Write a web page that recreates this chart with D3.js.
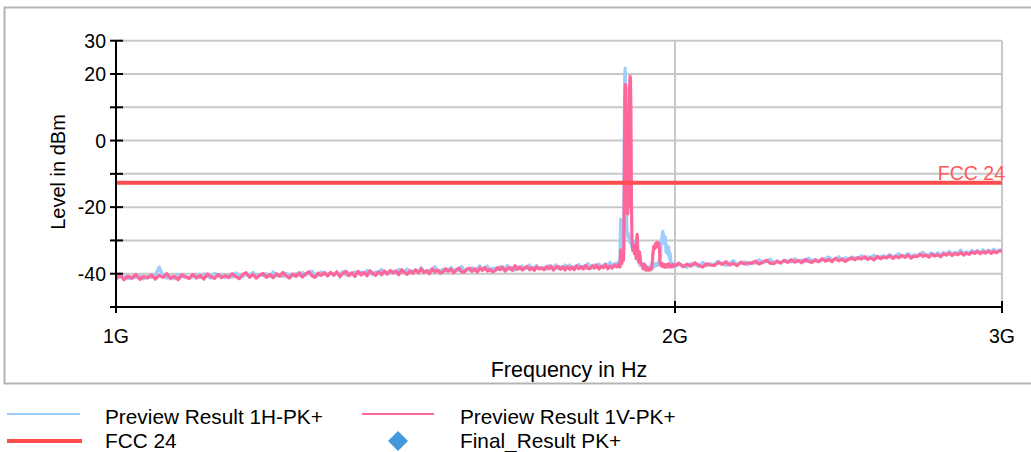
<!DOCTYPE html>
<html>
<head>
<meta charset="utf-8">
<script src="https://cdn.jsdelivr.net/npm/d3@7"></script>
<style>
  html, body { margin: 0; padding: 0; background: #fff; }
  svg { display: block; font-family: "Liberation Sans", Arial, sans-serif; }
</style>
</head>
<body>
<div id="chart"></div>
<script>
// Data (frequency in MHz, level in dBm)
const baseFreqLow = [
    1000, 1005, 1010, 1015, 1020, 1025, 1030, 1035, 1040, 1045,
    1050, 1055, 1060, 1065, 1070, 1075, 1080, 1085, 1090, 1095,
    1100, 1105, 1110, 1115, 1120, 1125, 1130, 1135, 1140, 1145,
    1150, 1155, 1160, 1165, 1170, 1175, 1180, 1185, 1190, 1195,
    1200, 1205, 1210, 1215, 1220, 1225, 1230, 1235, 1240, 1245,
    1250, 1255, 1260, 1265, 1270, 1275, 1280, 1285, 1290, 1295,
    1300, 1305, 1310, 1315, 1320, 1325, 1330, 1335, 1340, 1345,
    1350, 1355, 1360, 1365, 1370, 1375, 1380, 1385, 1390, 1395,
    1400, 1405, 1410, 1415, 1420, 1425, 1430, 1435, 1440, 1445,
    1450, 1455, 1460, 1465, 1470, 1475, 1480, 1485, 1490, 1495,
    1500, 1505, 1510, 1515, 1520, 1525, 1530, 1535, 1540, 1545,
    1550, 1555, 1560, 1565, 1570, 1575, 1580, 1585, 1590, 1595,
    1600, 1605, 1610, 1615, 1620, 1625, 1630, 1635, 1640, 1645,
    1650, 1655, 1660, 1665, 1670, 1675, 1680, 1685, 1690, 1695,
    1700, 1705, 1710, 1715, 1720, 1725, 1730, 1735, 1740, 1745,
    1750, 1755, 1760, 1765, 1770, 1775, 1780, 1785, 1790, 1795,
    1800, 1805, 1810, 1815, 1820, 1825, 1830, 1835, 1840, 1845,
    1850, 1855, 1860
];
const levelLowH = [
    -41.3, -41.0, -40.6, -41.5, -40.9, -41.2, -40.5, -41.6, -40.7, -41.1,
    -40.4, -38.0, -40.8, -41.3, -40.6, -41.5, -40.2, -41.0, -40.7, -41.3,
    -40.9, -40.5, -41.2, -40.0, -40.8, -41.3, -39.9, -40.6, -40.4, -41.1,
    -40.5, -41.0, -39.8, -40.7, -40.9, -40.1, -40.6, -39.6, -40.8, -40.3,
    -40.6, -40.0, -40.8, -39.5, -40.7, -40.3, -40.9, -39.9, -40.4, -40.6,
    -40.0, -40.5, -39.6, -40.4, -39.9, -39.2, -40.3, -40.6, -39.5, -40.2,
    -40.2, -39.7, -40.5, -39.9, -40.1, -39.3, -40.4, -39.8, -40.3, -39.5,
    -39.8, -39.5, -40.1, -39.0, -39.9, -40.2, -39.4, -39.7, -38.7, -39.9,
    -39.5, -39.8, -39.2, -39.9, -38.7, -39.6, -39.3, -38.6, -39.7, -39.2,
    -39.1, -39.5, -38.2, -39.3, -39.6, -38.9, -39.2, -37.9, -39.4, -39.0,
    -38.7, -39.2, -38.9, -38.1, -39.3, -38.6, -39.0, -37.8, -39.1, -38.8,
    -38.9, -38.2, -39.0, -38.6, -37.6, -38.8, -38.5, -37.7, -39.0, -38.3,
    -38.4, -38.8, -37.8, -38.6, -38.3, -37.5, -38.7, -38.2, -38.9, -37.9,
    -38.5, -37.7, -38.6, -38.1, -37.4, -38.5, -38.0, -37.6, -38.4, -38.1,
    -38.2, -38.6, -37.5, -38.4, -38.1, -37.3, -38.5, -37.9, -38.3, -37.4,
    -38.3, -37.4, -38.4, -37.9, -38.2, -37.2, -38.1, -37.7, -38.3, -36.9,
    -37.8, -38.2, -37.3, -38.0, -37.1, -37.9, -37.5, -37.0, -37.8, -36.6,
    -37.6, -37.1, -36.8
];
const levelLowV = [
    -41.6, -40.3, -41.8, -40.7, -41.4, -40.2, -41.7, -40.8, -41.3, -40.4,
    -41.6, -40.5, -41.1, -40.0, -41.5, -40.7, -41.8, -40.3, -41.0, -41.4,
    -40.2, -41.3, -40.5, -41.6, -40.1, -40.9, -41.4, -40.3, -41.2, -40.6,
    -41.2, -40.0, -40.9, -41.5, -40.3, -39.7, -41.1, -40.2, -41.3, -40.5,
    -39.9, -41.1, -40.2, -41.2, -40.0, -40.8, -39.6, -40.7, -41.3, -40.1,
    -40.8, -39.7, -41.0, -40.1, -39.4, -40.6, -41.1, -39.8, -40.5, -39.6,
    -40.7, -39.6, -40.4, -39.4, -40.9, -39.9, -39.3, -40.6, -39.7, -40.8,
    -39.3, -40.4, -39.6, -40.6, -39.1, -39.9, -40.5, -39.4, -40.3, -39.2,
    -40.1, -39.0, -39.8, -39.2, -40.3, -38.8, -39.6, -40.2, -39.1, -39.9,
    -38.8, -39.7, -38.6, -39.6, -39.1, -40.0, -38.5, -39.5, -38.9, -39.8,
    -39.5, -38.5, -39.3, -38.6, -39.7, -38.9, -38.3, -39.4, -39.6, -38.6,
    -38.4, -39.3, -38.5, -39.5, -38.3, -39.0, -38.1, -39.2, -38.7, -39.4,
    -39.1, -38.2, -38.8, -38.0, -39.2, -38.5, -38.1, -39.0, -37.6, -38.7,
    -38.0, -38.9, -38.3, -37.8, -38.8, -38.2, -39.0, -37.9, -38.6, -38.3,
    -38.8, -37.9, -38.5, -37.7, -38.9, -38.2, -37.8, -38.7, -38.0, -38.9,
    -37.8, -38.7, -38.0, -38.8, -37.6, -38.5, -37.9, -38.6, -37.5, -38.4,
    -38.5, -37.6, -38.3, -37.4, -38.6, -37.8, -38.2, -37.3, -38.5, -37.7,
    -38.3, -37.4, -37.9
];

// Around the 1.88 GHz carrier: [MHz, dBm]
const peakH = [
    [1862, -37.3], [1864, -36.6], [1866, -37.2], [1868, -35.8], [1869.5, -23.7], [1871, -35.5],
    [1873, -36.4], [1875, -34.5], [1876, -33.0], [1877, -28.0], [1878, 0.0], [1879, 18.0],
    [1880, 21.8], [1881, 18.0], [1882.5, -10.0], [1884, -26.0], [1886, -29.0], [1888, -28.0],
    [1890, -30.5], [1892, -29.0], [1895, -31.5], [1898, -33.0], [1900, -30.5], [1903, -34.0],
    [1906, -33.0], [1909, -35.5], [1912, -36.2], [1915, -37.5], [1918, -36.6], [1921, -38.3],
    [1924, -37.0], [1927, -38.5], [1930, -37.6], [1933, -38.9], [1936, -38.0], [1939, -38.6],
    [1942, -37.3], [1945, -38.4], [1948, -37.0], [1951, -37.8], [1954, -36.9], [1957, -37.5],
    [1960, -36.5], [1964, -35.0], [1967, -30.0], [1970, -27.3], [1972, -28.5], [1974, -31.0],
    [1976, -29.0], [1978, -33.5], [1980, -31.5], [1982, -34.0], [1984, -32.0], [1986, -35.5],
    [1988, -33.9], [1990, -37.0], [1993, -37.8], [1996, -36.9], [1998, -37.6]
];
const peakV = [
    [1862, -37.9], [1865, -37.2], [1868, -38.0], [1870, -32.8], [1872, -37.0], [1874, -35.5],
    [1876, -36.0], [1877, -33.0], [1878.5, -5.0], [1879.5, 12.0], [1880.5, 16.8], [1881.5, 16.0],
    [1882.5, 5.0], [1884, -18.0], [1886, -22.0], [1888, -18.0], [1889.5, 5.0], [1890.5, 15.0],
    [1891.5, 19.3], [1892.5, 18.5], [1893.5, 10.0], [1895, -20.0], [1896, -29.0], [1898, -33.0],
    [1900, -31.5], [1902, -34.0], [1904, -32.5], [1906, -35.5], [1907.5, -29.0], [1908.5, -28.2],
    [1910, -34.0], [1912, -36.5], [1914, -33.5], [1917, -36.8], [1920, -37.5], [1923, -38.6],
    [1926, -37.2], [1929, -38.9], [1932, -38.2], [1935, -39.0], [1938, -38.4], [1941, -38.8],
    [1944, -37.6], [1946, -34.0], [1948, -31.8], [1950, -32.5], [1952, -31.0], [1954, -32.0],
    [1956, -30.6], [1958, -31.5], [1960, -30.8], [1962, -33.0], [1963, -36.6], [1965, -37.5],
    [1967, -36.8], [1970, -37.9], [1973, -37.2], [1976, -38.1], [1979, -37.3], [1982, -37.9],
    [1985, -37.0], [1988, -38.0], [1991, -37.4], [1994, -37.9], [1997, -37.2]
];

const baseFreqHigh = [
    2000, 2010, 2020, 2030, 2040, 2050, 2060, 2070, 2080, 2090,
    2100, 2110, 2120, 2130, 2140, 2150, 2160, 2170, 2180, 2190,
    2200, 2210, 2220, 2230, 2240, 2250, 2260, 2270, 2280, 2290,
    2300, 2310, 2320, 2330, 2340, 2350, 2360, 2370, 2380, 2390,
    2400, 2410, 2420, 2430, 2440, 2450, 2460, 2470, 2480, 2490,
    2500, 2510, 2520, 2530, 2540, 2550, 2560, 2570, 2580, 2590,
    2600, 2610, 2620, 2630, 2640, 2650, 2660, 2670, 2680, 2690,
    2700, 2710, 2720, 2730, 2740, 2750, 2760, 2770, 2780, 2790,
    2800, 2810, 2820, 2830, 2840, 2850, 2860, 2870, 2880, 2890,
    2900, 2910, 2920, 2930, 2940, 2950, 2960, 2970, 2980, 2990,
    3000
];
const levelHighH = [
    -37.9, -37.2, -37.5, -38.1, -36.9, -37.4, -37.8, -36.6, -37.6, -37.0,
    -37.3, -36.2, -37.0, -37.5, -36.8, -36.1, -37.2, -36.8, -36.4, -37.3,
    -36.5, -36.9, -35.8, -36.7, -36.3, -35.6, -36.6, -36.1, -36.9, -35.9,
    -36.2, -36.5, -35.5, -36.3, -35.9, -36.4, -35.3, -36.1, -35.7, -36.3,
    -35.9, -35.4, -35.0, -35.8, -35.6, -34.9, -35.9, -35.2, -35.6, -35.0,
    -35.3, -35.6, -34.6, -35.4, -34.9, -35.1, -34.4, -35.3, -34.9, -34.6,
    -35.0, -34.2, -35.0, -34.5, -34.0, -34.8, -34.6, -33.9, -34.9, -34.3,
    -34.6, -34.0, -33.6, -34.5, -34.2, -33.8, -34.4, -33.7, -34.5, -33.6,
    -34.1, -33.3, -34.0, -33.6, -33.9, -32.9, -34.0, -33.4, -33.8, -33.0,
    -33.5, -33.0, -33.7, -32.8, -33.5, -32.9, -33.4, -32.6, -33.3, -32.9,
    -32.8
];
const levelHighV = [
    -37.6, -36.8, -37.9, -37.1, -37.7, -36.7, -37.5, -38.0, -37.0, -37.4,
    -37.5, -36.6, -37.2, -36.4, -37.4, -36.9, -37.6, -36.5, -37.1, -36.7,
    -36.9, -36.2, -37.1, -36.5, -36.0, -36.8, -37.0, -36.3, -36.7, -36.1,
    -36.6, -35.8, -36.5, -36.0, -36.7, -35.7, -36.3, -36.6, -35.9, -36.4,
    -35.5, -36.2, -35.8, -36.4, -35.4, -36.1, -35.6, -36.3, -35.7, -35.3,
    -35.8, -35.1, -35.6, -34.9, -35.7, -35.2, -35.9, -34.8, -35.5, -35.0,
    -35.3, -34.6, -35.4, -34.8, -35.2, -34.5, -35.1, -34.4, -35.3, -34.7,
    -34.9, -34.2, -34.8, -34.4, -35.0, -34.1, -34.7, -34.3, -34.9, -34.0,
    -34.4, -33.8, -34.5, -33.9, -34.3, -33.6, -34.4, -33.8, -34.2, -33.5,
    -33.9, -33.3, -34.0, -33.4, -33.8, -33.2, -33.9, -33.3, -33.7, -33.1,
    -33.2
];

const limitFreq = [1000, 3000];
const limitLevel = [-12.7, -12.7];

const yTicks = [-50, -40, -30, -20, -10, 0, 10, 20, 30];
const yLabels = [-40, -20, 0, 20, 30];
const xTicks = [1000, 2000, 3000];
const xTickLabels = ["1G", "2G", "3G"];

// Helpers
function zip(freqs, levels) {
    return freqs.map((f, i) => ({ f: f, v: levels[i] }));
}
function fromPairs(pairs) {
    return pairs.map(p => ({ f: p[0], v: p[1] }));
}

const seriesH = zip(baseFreqLow, levelLowH).concat(fromPairs(peakH), zip(baseFreqHigh, levelHighH));
const seriesV = zip(baseFreqLow, levelLowV).concat(fromPairs(peakV), zip(baseFreqHigh, levelHighV));
const seriesLimit = zip(limitFreq, limitLevel);

// Layout
const width = 1031, height = 452;
const plot = { left: 116, right: 1002, top: 40.7, bottom: 307 };

const svg = d3.select("#chart").append("svg")
    .attr("width", width)
    .attr("height", height);

// Panel frame
svg.append("rect")
    .attr("x", 4.5).attr("y", 7.5)
    .attr("width", 1040).attr("height", 376)
    .attr("fill", "#fff")
    .attr("stroke", "#b4b4b4")
    .attr("stroke-width", 2);

const x = d3.scaleLog().domain([1000, 3000]).range([plot.left, plot.right]);
const y = d3.scaleLinear().domain([-50, 30]).range([plot.bottom, plot.top]);

// Grid
const grid = svg.append("g");
grid.selectAll(".hgrid")
    .data(yTicks.filter(d => d > -50))
    .enter().append("line")
    .attr("x1", plot.left).attr("x2", plot.right)
    .attr("y1", d => y(d)).attr("y2", d => y(d))
    .attr("stroke", "#c8c8c8").attr("stroke-width", 2);
grid.selectAll(".vgrid")
    .data(xTicks.slice(1))
    .enter().append("line")
    .attr("x1", d => x(d)).attr("x2", d => x(d))
    .attr("y1", plot.top).attr("y2", plot.bottom)
    .attr("stroke", "#c8c8c8").attr("stroke-width", 2);

// Traces
const line = d3.line().x(d => x(d.f)).y(d => y(d.v));

svg.append("path").datum(seriesH)
    .attr("d", line)
    .attr("fill", "none")
    .attr("stroke", "#9fcdfb")
    .attr("stroke-width", 3.2)
    .attr("stroke-linejoin", "round");

svg.append("path").datum(seriesV)
    .attr("d", line)
    .attr("fill", "none")
    .attr("stroke", "#ff6699")
    .attr("stroke-width", 3.2)
    .attr("stroke-linejoin", "round");

svg.append("path").datum(seriesLimit)
    .attr("d", line)
    .attr("fill", "none")
    .attr("stroke", "#ff4d4d")
    .attr("stroke-width", 4);

svg.append("text")
    .attr("x", x(3000) + 3).attr("y", y(limitLevel[1]) - 3)
    .attr("text-anchor", "end")
    .attr("font-size", 19.5)
    .attr("fill", "#ff5a5a")
    .text("FCC 24");

// Axes
const yAxis = svg.append("g");
yAxis.append("line")
    .attr("x1", plot.left).attr("x2", plot.left)
    .attr("y1", plot.top).attr("y2", plot.bottom)
    .attr("stroke", "#000").attr("stroke-width", 2);
yAxis.selectAll(".tick")
    .data(yTicks)
    .enter().append("line")
    .attr("x1", plot.left - 6).attr("x2", plot.left + 7)
    .attr("y1", d => y(d)).attr("y2", d => y(d))
    .attr("stroke", "#000").attr("stroke-width", 2);
yAxis.selectAll(".label")
    .data(yLabels)
    .enter().append("text")
    .attr("x", plot.left - 10)
    .attr("y", d => y(d))
    .attr("dy", "0.36em")
    .attr("text-anchor", "end")
    .attr("font-size", 19.5)
    .text(d => d);

const xAxis = svg.append("g");
xAxis.append("line")
    .attr("x1", plot.left).attr("x2", plot.right)
    .attr("y1", plot.bottom).attr("y2", plot.bottom)
    .attr("stroke", "#000").attr("stroke-width", 2);
xAxis.selectAll(".tick")
    .data(xTicks)
    .enter().append("line")
    .attr("x1", d => x(d)).attr("x2", d => x(d))
    .attr("y1", plot.bottom - 6).attr("y2", plot.bottom + 6)
    .attr("stroke", "#000").attr("stroke-width", 2);
xAxis.selectAll(".label")
    .data(xTicks)
    .enter().append("text")
    .attr("x", d => x(d))
    .attr("y", 343)
    .attr("text-anchor", "middle")
    .attr("font-size", 19.5)
    .text((d, i) => xTickLabels[i]);

svg.append("text")
    .attr("x", 569).attr("y", 377)
    .attr("text-anchor", "middle")
    .attr("font-size", 21.5)
    .text("Frequency in Hz");

svg.append("text")
    .attr("transform", "translate(64.5,172) rotate(-90)")
    .attr("text-anchor", "middle")
    .attr("font-size", 20)
    .text("Level in dBm");

// Legend
const legend = svg.append("g").attr("font-size", 20.8);
legend.append("line").attr("x1", 7).attr("x2", 80).attr("y1", 414).attr("y2", 414)
    .attr("stroke", "#9fcdfb").attr("stroke-width", 2);
legend.append("text").attr("x", 105).attr("y", 424).text("Preview Result 1H-PK+");
legend.append("line").attr("x1", 362).attr("x2", 434).attr("y1", 414).attr("y2", 414)
    .attr("stroke", "#ff6699").attr("stroke-width", 2);
legend.append("text").attr("x", 460).attr("y", 424).text("Preview Result 1V-PK+");
legend.append("line").attr("x1", 7).attr("x2", 82).attr("y1", 441).attr("y2", 441)
    .attr("stroke", "#ff4d4d").attr("stroke-width", 4);
legend.append("text").attr("x", 105).attr("y", 448).text("FCC 24");
legend.append("path")
    .attr("d", "M398,431 L408,441 L398,451 L388,441 Z")
    .attr("fill", "#4499dd");
legend.append("text").attr("x", 460).attr("y", 448).text("Final_Result PK+");
</script>
</body>
</html>
